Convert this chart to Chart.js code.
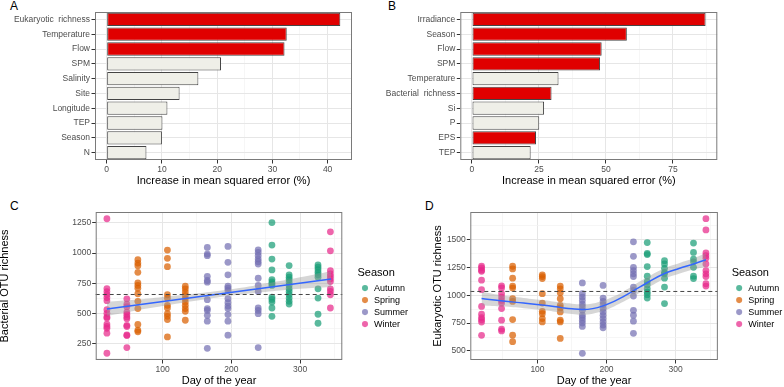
<!DOCTYPE html>
<html>
<head>
<meta charset="utf-8">
<script src="https://cdn.jsdelivr.net/npm/chart.js@4.4.1/dist/chart.umd.min.js"></script>
<style>
  html, body { margin: 0; padding: 0; background: #fff; overflow: hidden; }
  body { width: 784px; height: 387px; position: relative; font-family: "Liberation Sans", Arial, sans-serif; }
  canvas { position: absolute; }
  .tag { position: absolute; font-size: 12px; line-height: 12px; color: #000; }
</style>
</head>
<body>
<div class="tag" style="left:10px;top:0px">A</div>
<div class="tag" style="left:388px;top:0px">B</div>
<div class="tag" style="left:10px;top:200px">C</div>
<div class="tag" style="left:425px;top:200px">D</div>
<canvas id="chartA" width="380" height="195" style="left:0px;top:0px"></canvas>
<canvas id="chartB" width="404" height="195" style="left:380px;top:0px"></canvas>
<canvas id="chartC" width="418" height="192" style="left:0px;top:195px"></canvas>
<canvas id="chartD" width="362" height="192" style="left:430px;top:195px"></canvas>
<script>
// A: importance of predictors for bacterial richness
const bactVars = ['Eukaryotic  richness', 'Temperature', 'Flow', 'SPM', 'Salinity', 'Site', 'Longitude', 'TEP', 'Season', 'N'];
const bactMse = [42.3, 32.6, 32.2, 20.7, 16.6, 13.2, 11.0, 10.1, 10.0, 7.2];
const bactSignif = [1, 1, 1, 0, 0, 0, 0, 0, 0, 0];

// B: importance of predictors for eukaryotic richness
const eukVars = ['Irradiance', 'Season', 'Flow', 'SPM', 'Temperature', 'Bacterial  richness', 'Si', 'P', 'EPS', 'TEP'];
const eukMse = [87.2, 57.8, 48.4, 47.8, 32.3, 29.7, 26.9, 25.1, 23.9, 21.9];
const eukSignif = [1, 1, 1, 1, 0, 1, 0, 0, 1, 0];

const mseTicksA = [0, 5, 10, 15, 20, 25, 30, 35, 40];
const mseTicksB = [0, 12.5, 25, 37.5, 50, 62.5, 75, 87.5];

// C, D: sampling days and richness per sampling
const sampleDays = [19, 48, 64, 107, 133, 165, 195, 239, 259, 284, 326, 344];
const sampleSeason = ['Winter', 'Winter', 'Spring', 'Spring', 'Spring', 'Summer', 'Summer', 'Summer', 'Autumn', 'Autumn', 'Autumn', 'Winter'];
const seasonNames = ['Autumn', 'Spring', 'Summer', 'Winter'];
const seasonColors = ['rgba(27,158,119,0.72)', 'rgba(217,95,2,0.72)', 'rgba(117,112,179,0.72)', 'rgba(231,41,138,0.72)'];

const bactRichness = [
  [1285, 705, 680, 655, 630, 605, 530, 500, 470, 460, 410, 390, 375, 335, 168],
  [620, 575, 555, 510, 490, 470, 455, 400, 390, 320, 315, 215],
  [945, 917, 895, 840, 753, 731, 708, 662, 599, 539, 407, 360, 346],
  [1025, 956, 887, 654, 626, 566, 544, 497, 475, 448, 304],
  [725, 703, 676, 648, 620, 593, 566, 539, 516, 442],
  [1047, 992, 978, 807, 772, 758, 613, 539, 524, 483, 434, 209],
  [1055, 923, 819, 725, 708, 689, 621, 588, 560, 539, 489, 434, 318],
  [1027, 1005, 978, 950, 928, 909, 791, 731, 681, 544, 524, 497, 215],
  [1253, 1066, 950, 860, 780, 760, 745, 731, 634, 615, 593, 544, 475],
  [896, 819, 799, 780, 758, 731, 703, 681, 654, 626, 599, 576],
  [901, 882, 862, 840, 819, 799, 703, 626, 492, 417],
  [1176, 1019, 854, 827, 807, 786, 764, 703, 681, 654, 544]
];
const eukRichness = [
  [1260, 1245, 1225, 1215, 1135, 1050, 900, 830, 800, 780, 760, 640],
  [1085, 1065, 1014, 984, 954, 930, 880, 776, 696, 680],
  [1260, 1236, 1153, 1082, 1064, 969, 945, 782, 642, 583],
  [1183, 1168, 1150, 1014, 930, 856, 835, 791, 761],
  [1082, 1058, 1022, 969, 910, 886, 850, 776, 761, 613],
  [1111, 1014, 984, 954, 921, 895, 865, 821, 800, 776, 750, 720, 479],
  [1088, 975, 945, 916, 880, 850, 820, 791, 761, 732, 708],
  [1479, 1349, 1251, 1221, 1192, 1168, 1073, 1043, 993, 865, 821, 767, 658],
  [1473, 1375, 1365, 1257, 1171, 1123, 1094, 1058, 1028, 1005, 975],
  [1310, 1281, 1242, 1206, 1192, 1153, 1073, 925],
  [1468, 1384, 1325, 1300, 1251, 1171, 1150],
  [1687, 1586, 1379, 1355, 1331, 1281, 1221, 1192, 1168, 1103, 1082]
];

// smoothers (fit + confidence band) and mean lines
const bactFitDay = [19, 345];
const bactFit = [535, 785];
const bactBandDay = [19, 60, 100, 140, 180, 220, 260, 300, 345];
const bactLow = [478, 522, 560, 598, 632, 660, 683, 703, 718];
const bactHigh = [595, 612, 636, 660, 686, 717, 758, 800, 850];
const bactMean = 656;

const eukFitDay = [19, 50, 80, 110, 135, 150, 165, 180, 195, 211, 225, 240, 259, 284, 305, 326, 344];
const eukFit = [970, 948, 930, 910, 889, 878, 872, 880, 905, 945, 990, 1043, 1112, 1195, 1240, 1281, 1318];
const eukLow = [908, 898, 884, 865, 844, 832, 825, 834, 860, 900, 943, 993, 1062, 1147, 1192, 1231, 1256];
const eukHigh = [1032, 998, 976, 955, 934, 924, 919, 926, 950, 990, 1037, 1093, 1162, 1243, 1288, 1331, 1380];
const eukMean = 1034;

const dayTicks = [50, 100, 150, 200, 250, 300, 350];
const bactTicks = [125, 250, 375, 500, 625, 750, 875, 1000, 1125, 1250];
const eukTicks = [500, 625, 750, 875, 1000, 1125, 1250, 1375, 1500, 1625];

Chart.defaults.font.family = '"Liberation Sans", Arial, sans-serif';
Chart.defaults.color = '#4D4D4D';

const redFill = '#E00000';
const greyFill = '#EFEFE8';

// panel border + dashed mean line
const panelBox = {
  id: 'panelBox',
  afterDatasetsDraw(chart, args, opts) {
    const ctx = chart.ctx, a = chart.chartArea;
    ctx.save();
    if (opts.hline !== undefined) {
      const y = chart.scales.y.getPixelForValue(opts.hline);
      ctx.strokeStyle = '#444';
      ctx.lineWidth = 1;
      ctx.setLineDash([4, 3]);
      ctx.beginPath();
      ctx.moveTo(a.left, y);
      ctx.lineTo(a.right, y);
      ctx.stroke();
      ctx.setLineDash([]);
    }
    ctx.strokeStyle = '#7a7a7a';
    ctx.lineWidth = 1;
    ctx.strokeRect(a.left + 0.5, a.top + 0.5, a.width - 1, a.height - 1);
    ctx.restore();
  }
};

function isMajor(list, v) {
  return list.includes(v);
}

function gridOpts(major) {
  return {
    color: c => isMajor(major, c.tick.value) ? '#E6E6E6' : '#F2F2F2',
    lineWidth: c => isMajor(major, c.tick.value) ? 1 : 0.7,
    tickColor: c => isMajor(major, c.tick.value) ? '#333' : 'rgba(0,0,0,0)',
    tickLength: 3.5
  };
}

function barChart(id, labels, values, signif, xmin, xmax, ticks, major, yWidth, pad) {
  var colors = signif.map(s => s ? redFill : greyFill);
  return new Chart(document.getElementById(id), {
    type: 'bar',
    data: {
      labels: labels,
      datasets: [{
        data: values,
        backgroundColor: colors,
        borderColor: '#444',
        borderWidth: 1,
        borderSkipped: false,
        barPercentage: 0.9,
        categoryPercentage: 1
      }]
    },
    options: {
      indexAxis: 'y',
      responsive: false,
      animation: false,
      layout: { padding: pad },
      plugins: { legend: { display: false }, tooltip: { enabled: false }, panelBox: {} },
      scales: {
        x: {
          min: xmin, max: xmax,
          afterBuildTicks: s => { s.ticks = ticks.map(v => ({ value: v })); },
          afterFit: s => { s.height = 28; },
          border: { display: false },
          grid: gridOpts(major),
          ticks: { autoSkip: false, maxRotation: 0, padding: 1, font: { size: 8.5 },
                   callback: v => isMajor(major, v) ? String(v) : '' },
          title: { display: true, text: 'Increase in mean squared error (%)', color: '#000',
                   font: { size: 11 }, padding: { top: 0, bottom: 0 } }
        },
        y: {
          afterFit: s => { s.width = yWidth; },
          border: { display: false },
          grid: { offset: false, color: '#E6E6E6', tickColor: '#333', tickLength: 3.5 },
          ticks: { autoSkip: false, padding: 1.5, font: { size: 8.5 } }
        }
      }
    },
    plugins: [panelBox]
  });
}

function seasonDatasets(values) {
  return seasonNames.map((s, k) => {
    var pts = [];
    sampleDays.forEach((d, i) => {
      if (sampleSeason[i] === s) values[i].forEach(v => pts.push({ x: d, y: v }));
    });
    return { type: 'scatter', label: s, data: pts, backgroundColor: seasonColors[k],
             borderColor: seasonColors[k], borderWidth: 0, pointRadius: 3.4, order: 2 };
  });
}

function zip(xs, ys) {
  return xs.map((x, i) => ({ x: x, y: ys[i] }));
}

function scatterChart(id, values, fitDay, fit, bandDay, low, high, mean, ymin, ymax, yTicks, yMajor, yTitle, yWidth, gap, titlePad) {
  var datasets = seasonDatasets(values);
  datasets.push({ type: 'line', label: 'low', data: zip(bandDay, low), borderColor: 'rgba(0,0,0,0)',
                  pointRadius: 0, fill: false, tension: 0.4, order: 1 });
  datasets.push({ type: 'line', label: 'high', data: zip(bandDay, high), borderColor: 'rgba(0,0,0,0)',
                  backgroundColor: 'rgba(153,153,153,0.4)', pointRadius: 0, fill: '-1',
                  tension: 0.4, order: 1 });
  datasets.push({ type: 'line', label: 'fit', data: zip(fitDay, fit), borderColor: '#3366FF',
                  borderWidth: 1.5, pointRadius: 0, fill: false, tension: 0.4, order: 0 });

  return new Chart(document.getElementById(id), {
    type: 'scatter',
    data: { datasets: datasets },
    options: {
      responsive: false,
      animation: false,
      layout: { padding: { top: 17, right: 0, bottom: 0, left: 0 } },
      plugins: {
        tooltip: { enabled: false },
        panelBox: { hline: mean },
        legend: {
          position: 'right',
          title: { display: true, text: 'Season', position: 'start', color: '#000', font: { size: 11 }, padding: 0 },
          labels: {
            usePointStyle: true, pointStyle: 'circle', boxWidth: 9, boxHeight: 4.3, padding: 3,
            color: '#000', font: { size: 9 },
            filter: item => seasonNames.includes(item.text)
          }
        }
      },
      scales: {
        x: {
          min: 2.7, max: 361.3,
          afterBuildTicks: s => { s.ticks = dayTicks.map(v => ({ value: v })); },
          afterFit: s => { s.height = 27; },
          border: { display: false },
          grid: gridOpts([100, 200, 300]),
          ticks: { autoSkip: false, maxRotation: 0, padding: 1, font: { size: 8.5 },
                   callback: v => (v % 100 === 0) ? String(v) : '' },
          title: { display: true, text: 'Day of the year', color: '#000', font: { size: 11 },
                   padding: { top: 0, bottom: -1 } }
        },
        y: {
          min: ymin, max: ymax,
          afterBuildTicks: s => { s.ticks = yTicks.map(v => ({ value: v })); },
          afterFit: s => { s.width = yWidth; },
          border: { display: false },
          grid: gridOpts(yMajor),
          ticks: { autoSkip: false, padding: 1, font: { size: 8.5 },
                   callback: v => isMajor(yMajor, v) ? String(v) : '' },
          title: { display: true, text: yTitle, color: '#000', font: { size: 11 },
                   padding: { top: titlePad, bottom: 0 } }
        },
        gap: {
          type: 'linear', position: 'right', display: true,
          grid: { display: false, drawTicks: false },
          border: { display: false },
          ticks: { display: false },
          afterFit: s => { s.width = gap; }
        }
      }
    },
    plugins: [panelBox]
  });
}

barChart('chartA', bactVars, bactMse, bactSignif, -2.115, 44.415, mseTicksA, [0, 10, 20, 30, 40], 95,
         { top: 12, right: 28, bottom: 7, left: 0 });
barChart('chartB', eukVars, eukMse, eukSignif, -4.36, 91.56, mseTicksB, [0, 25, 50, 75], 80.3,
         { top: 12, right: 66.7, bottom: 7, left: 0 });

scatterChart('chartC', bactRichness, bactFitDay, bactFit, bactBandDay, bactLow, bactHigh, bactMean,
             112, 1341, bactTicks, [250, 500, 750, 1000, 1250], 'Bacterial OTU richness', 95.7, 15.2, -1.6);
scatterChart('chartD', eukRichness, eukFitDay, eukFit, eukFitDay, eukLow, eukHigh, eukMean,
             419, 1747, eukTicks, [500, 750, 1000, 1250, 1500], 'Eukaryotic OTU richness', 40.3, 13.8, 1.4);
</script>
</body>
</html>
